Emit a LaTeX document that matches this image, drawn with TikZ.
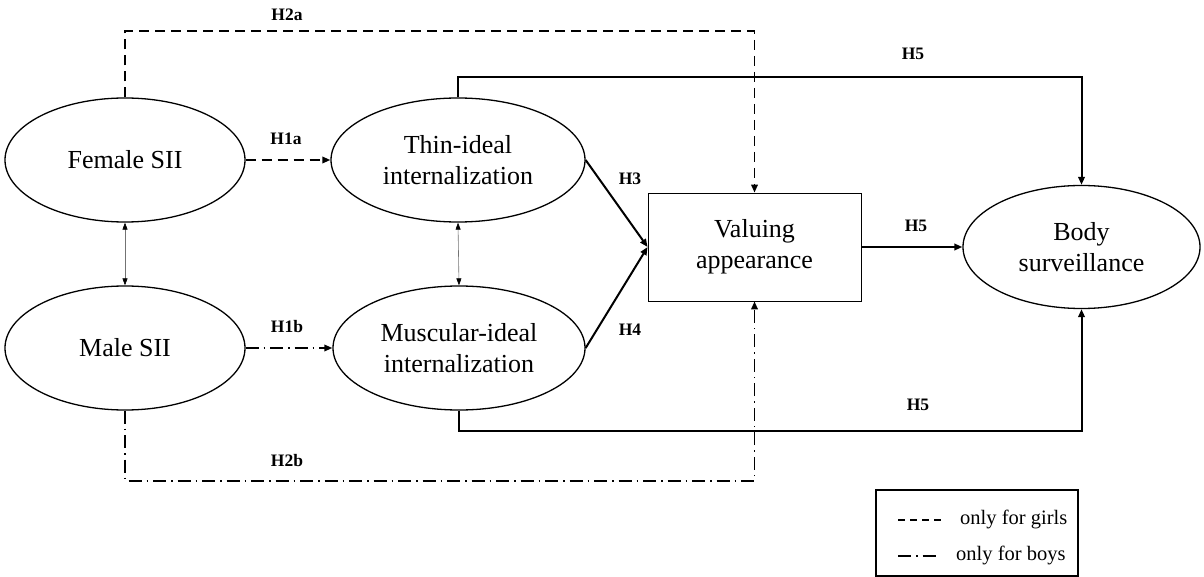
\documentclass[tikz,border=0pt]{standalone}
\usepackage{fontspec}
\setmainfont{Liberation Serif}
\usetikzlibrary{shapes.geometric,arrows.meta}
\tikzset{
  latent/.style={draw,ellipse,line width=1.3pt,inner sep=0pt,align=center,font=\fontsize{26}{31}\selectfont},
  obsbox/.style={draw,rectangle,line width=0.8pt,inner sep=0pt,align=center,font=\fontsize{26}{31}\selectfont},
  hlab/.style={font=\fontsize{17.5}{20}\selectfont\bfseries,inner sep=0pt},
  legtext/.style={font=\fontsize{20.5}{24}\selectfont,inner sep=0pt,anchor=west},
  tip/.style={-{Triangle[length=8pt,width=6.5pt]}},
  girls/.style={line width=1.8pt,dash pattern=on 10pt off 6pt},
  boys/.style={line width=1.8pt,dash pattern=on 13pt off 5pt on 1.5pt off 5pt},
  solidpath/.style={line width=2pt},
  corr/.style={line width=0.6pt,draw=black!55,{Triangle[length=7pt,width=5pt,black]}-{Triangle[length=7pt,width=5pt,black]}},
}
\begin{document}
\begin{tikzpicture}[x=1pt,y=-1pt]
\useasboundingbox (0,0) rectangle (1204,577);
% nodes
\node[latent,minimum width=240pt,minimum height=124pt] (fem) at (125,160) {Female SII};
\node[latent,minimum width=240pt,minimum height=124pt] (male) at (125,348) {Male SII};
\node[latent,minimum width=254pt,minimum height=124pt] (thin) at (458,160) {Thin-ideal\\internalization};
\node[latent,minimum width=252pt,minimum height=124pt] (musc) at (459,348) {Muscular-ideal\\internalization};
\node[obsbox,minimum width=213pt,minimum height=108pt] (val) at (754.5,247) {Valuing\\appearance};
\node[latent,minimum width=237pt,minimum height=123pt] (body) at (1081.5,247) {Body\\surveillance};
% correlations
\draw[corr] (fem.south) -- (male.north);
\draw[corr] (thin.south) -- (musc.north);
% paths
\draw[girls,tip] (fem.east) -- (thin.west);
\draw[boys,tip] (male.east) -- (musc.west);
\draw[girls,tip] (fem.north) -- ++(0,-66) -| (val.north);
\draw[boys,tip] (male.south) -- ++(0,70) -| (val.south);
\draw[solidpath,tip] (thin.north) -- ++(0,-20) -| (body.north);
\draw[solidpath,tip] (musc.south) -- ++(0,20) -| (body.south);
\draw[solidpath,tip] (thin.east) -- (val.west);
\draw[solidpath,tip] (musc.east) -- (val.west);
\draw[solidpath,tip] (val.east) -- (body.west);
% labels
\node[hlab] (l2a) at (287,15) {H2a};
\node[hlab] (l1a) at (286,139) {H1a};
\node[hlab] (l1b) at (287,327) {H1b};
\node[hlab] (l2b) at (287,461) {H2b};
\node[hlab] (l3) at (630,179) {H3};
\node[hlab] (l4) at (630,330) {H4};
\node[hlab] (l5a) at (913,54) {H5};
\node[hlab] (l5b) at (916,226) {H5};
\node[hlab] (l5c) at (918,405) {H5};
% legend
\node[draw,line width=1.3pt,minimum width=202pt,minimum height=86pt,inner sep=0pt] (legend) at (977,533) {};
\coordinate (g1) at (898,520);
\coordinate (g2) at (942,520);
\coordinate (b1) at (898,556);
\coordinate (b2) at (940,556);
\draw[line width=1.3pt,dash pattern=on 7pt off 5pt] (g1) -- (g2);
\draw[line width=1.8pt,dash pattern=on 13pt off 5pt on 1.5pt off 5pt] (b1) -- (b2);
\node[legtext] (lg) at (960,519) {only for girls};
\node[legtext] (lb) at (956,555) {only for boys};
\end{tikzpicture}
\end{document}
